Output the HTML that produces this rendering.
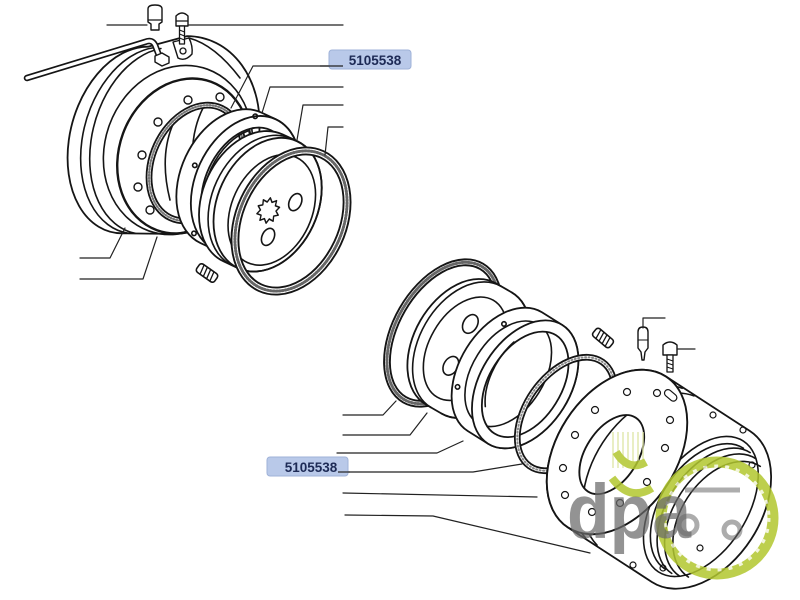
<!DOCTYPE html>
<html><head><meta charset="utf-8"><style>
html,body{margin:0;padding:0;background:#fff;}
svg{display:block;}
</style></head><body>
<svg width="800" height="600" viewBox="0 0 800 600" xmlns="http://www.w3.org/2000/svg">
<rect width="800" height="600" fill="#fff"/>
<g fill="none" stroke="#151515" stroke-width="1.6" stroke-linejoin="round" stroke-linecap="round">

<!-- ===== TOP ASSEMBLY ===== -->
<path fill="#fff" stroke-width="1.8" d="M147.9,46.7 L187.1,36.1 A80,100 15 0 1 168.9,233.9 L122.1,233.3 A65,95 15 0 1 147.9,46.7 Z"/>
<path d="M154.9,47.5 A65,95 15 0 0 129.1,233.3"/>
<path d="M160.9,48.5 A65,95 15 0 0 135.1,233.3"/>
<ellipse cx="178" cy="150" rx="73" ry="86" transform="rotate(20 178 150)"/>
<ellipse cx="184" cy="156" rx="65" ry="79" transform="rotate(20 184 156)" stroke-width="2.4"/>
<g stroke-width="1.4">
<circle cx="188" cy="100" r="4"/><circle cx="158" cy="122" r="4"/><circle cx="142" cy="155" r="4"/>
<circle cx="138" cy="187" r="4"/><circle cx="150" cy="210" r="4"/><circle cx="220" cy="97" r="4"/>
</g>
<path d="M176,118 Q158,152 170,200"/>
<path d="M203,108 Q186,142 196,190"/>
<g transform="translate(196,163) rotate(25)">
<path fill="#fff" fill-rule="evenodd" stroke-width="1.8" d="M-46,0 A46,63 0 1 0 46,0 A46,63 0 1 0 -46,0 Z M-41,0 A41,58 0 1 0 41,0 A41,58 0 1 0 -41,0 Z"/>
<ellipse rx="43.5" ry="60.5" stroke="#777" stroke-width="2.2" stroke-dasharray="1 2"/>
</g>
<g transform="translate(240,182) rotate(25)">
<path fill="#fff" fill-rule="evenodd" stroke-width="1.8" d="M-10,-72 L6,-72 A50,72 0 0 1 6,72 L-10,72 A50,72 0 0 1 -10,-72 Z M-34,0 A40,60 0 1 0 46,0 A40,60 0 1 0 -34,0 Z"/>
<ellipse cx="6" rx="50" ry="72" stroke-width="1.8"/>
<path d="M-14,-50 A40,60 0 0 0 -14,50"/>
<circle cx="-48" cy="4" r="2.2"/><circle cx="-20" cy="66" r="2.2"/><circle cx="-14" cy="-66" r="2.2"/>
</g>
<g transform="translate(264,203) rotate(25)">
<path fill="#fff" stroke-width="1.8" d="M-12,-70 L4,-70 A50,70 0 0 1 4,70 L-12,70 A50,70 0 0 1 -12,-70 Z"/>
<ellipse cx="4" rx="50" ry="70" stroke-width="1.8"/>
<path d="M-2,-70 A50,70 0 0 0 -2,70"/>
<ellipse cx="10" cy="3" rx="40" ry="58"/>
<g transform="translate(7,5) scale(0.85,1)">
<polygon fill="#fff" stroke-width="1.6" points="13,0 8.56,2.78 10.52,7.64 5.29,7.28 4.02,12.36 0,9 -4.02,12.36 -5.29,7.28 -10.52,7.64 -8.56,2.78 -13,0 -8.56,-2.78 -10.52,-7.64 -5.29,-7.28 -4.02,-12.36 0,-9 4.02,-12.36 5.29,-7.28 10.52,-7.64 8.56,-2.78"/>
</g>
<ellipse cx="28" cy="-14" rx="6" ry="9"/>
<ellipse cx="18" cy="29" rx="6" ry="9"/>
</g>
<g transform="translate(291,221) rotate(25)">
<path fill="#fff" fill-rule="evenodd" stroke-width="1.9" d="M-55,0 A55,77 0 1 0 55,0 A55,77 0 1 0 -55,0 Z M-48,0 A48,70 0 1 0 48,0 A48,70 0 1 0 -48,0 Z"/>
<ellipse rx="51.5" ry="73.5" stroke="#666" stroke-width="3" stroke-dasharray="1.2 1.8"/>
</g>
<g transform="translate(207,273) rotate(35)">
<rect x="-11" y="-5" width="22" height="10" rx="3" fill="#fff"/>
<path d="M-7,-5 L-5,5 M-3,-5 L-1,5 M1,-5 L3,5 M5,-5 L7,5" stroke-width="1.3"/>
</g>
<path d="M27,78 L145,42 Q152,39 155,45 L160,58" stroke-width="6.5"/>
<path d="M27,78 L145,42 Q152,39 155,45 L160,58" stroke="#fff" stroke-width="3.2"/>
<path d="M155,56 L162,53 L169,57 L169,63 L162,66 L155,62 Z" fill="#fff" stroke-width="1.4"/>
<path d="M173,42 L189,38 Q193,46 192,54 Q185,62 178,58 Z" fill="#fff" stroke-width="1.4"/>
<circle cx="183" cy="51" r="3" stroke-width="1.3"/>
<path d="M189,38 Q215,45 240,78"/>
<path d="M148,9 Q148,5 155,5 Q162,5 162,9 L162,22 L159,24 L159,30 L151,30 L151,24 L148,22 Z" fill="#fff" stroke-width="1.4"/>
<path d="M148,20 L162,20" stroke-width="1.2"/>
<path d="M176,16 Q182,10 188,16 L188,26 L176,26 Z" fill="#fff" stroke-width="1.4"/>
<path d="M176,21 L188,21" stroke-width="1.2"/>
<rect x="179.5" y="26" width="5" height="18" fill="#fff" stroke-width="1.3"/>
<path d="M179.5,30 L184.5,32 M179.5,34 L184.5,36 M179.5,38 L184.5,40" stroke-width="1"/>

<g stroke-width="1.2" stroke="#222">
<path d="M107,25 L147,25 M189,25 L343,25"/>
<path d="M343,66 L253,66 L231,108"/>
<path d="M343,87 L270,87 L262,113"/>
<path d="M343,105 L303,105 L297,140"/>
<path d="M343,127 L328,127 L325,155"/>
<path d="M80,258 L110,258 L125,228"/>
<path d="M80,279 L143,279 L157,237"/>
</g>

<!-- ===== BOTTOM ASSEMBLY ===== -->
<g transform="translate(443,333) rotate(30)">
<path fill="#fff" fill-rule="evenodd" stroke-width="1.9" d="M-50,0 A50,80 0 1 0 50,0 A50,80 0 1 0 -50,0 Z M-44,0 A44,74 0 1 0 44,0 A44,74 0 1 0 -44,0 Z"/>
<ellipse rx="47" ry="77" stroke="#666" stroke-width="3" stroke-dasharray="1.2 1.8"/>
</g>
<g transform="translate(468,348) rotate(30)">
<path fill="#fff" stroke-width="1.8" d="M-8,-70 L10,-70 A47,70 0 0 1 10,70 L-8,70 A47,70 0 0 1 -8,-70 Z"/>
<path d="M-2,-70 A47,70 0 0 0 -2,70"/>
<ellipse cx="-2" cy="2" rx="36" ry="56"/>
<ellipse cx="-10" cy="-22" rx="7" ry="10"/>
<ellipse cx="-6" cy="24" rx="7" ry="10"/>
<g transform="translate(10,2) scale(0.8,1)">
<polygon fill="#fff" stroke-width="1.5" points="13,0 8.56,2.78 10.52,7.64 5.29,7.28 4.02,12.36 0,9 -4.02,12.36 -5.29,7.28 -10.52,7.64 -8.56,2.78 -13,0 -8.56,-2.78 -10.52,-7.64 -5.29,-7.28 -4.02,-12.36 0,-9 4.02,-12.36 5.29,-7.28 10.52,-7.64 8.56,-2.78"/>
</g>
<path d="M10,-70 A47,70 0 0 1 10,70" stroke-width="1.8"/>
</g>
<g transform="translate(515,378) rotate(32)">
<path fill="#fff" stroke-width="1.8" d="M-12,-70 L12,-70 A45,70 0 0 1 12,70 L-12,70 A45,70 0 0 1 -12,-70 Z"/>
<ellipse cx="-8" rx="36" ry="58"/>
<path fill="#fff" fill-rule="evenodd" stroke-width="1.8" d="M-33,0 A45,70 0 1 0 57,0 A45,70 0 1 0 -33,0 Z M-24,0 A36,58 0 1 0 48,0 A36,58 0 1 0 -24,0 Z"/>
<path d="M-20,-30 A36,58 0 0 0 -10,40"/>
<circle cx="-38" cy="-40" r="2.2"/><circle cx="-44" cy="38" r="2.2"/>
</g>
<g transform="translate(566,414) rotate(35)">
<path fill="#fff" fill-rule="evenodd" stroke-width="1.8" d="M-42,0 A42,66 0 1 0 42,0 A42,66 0 1 0 -42,0 Z M-37,0 A37,61 0 1 0 37,0 A37,61 0 1 0 -37,0 Z"/>
<ellipse rx="39.5" ry="63.5" stroke="#888" stroke-width="2" stroke-dasharray="1 2.5"/>
</g>
<!-- housing H2 -->
<g transform="translate(617,452) rotate(33)">
<path fill="#fff" stroke-width="1.8" d="M0,-90 L100,-90 A60,90 0 0 1 100,90 L0,90 A60,90 0 0 1 0,-90 Z"/>
<ellipse cx="100" rx="46" ry="78"/>
<path d="M104,-72 A44,72 0 0 0 104,72"/>
<path d="M112,-72 A44,72 0 0 0 112,72"/>
<path d="M120,-70 A44,70 0 0 0 120,70"/>
<path d="M128,-66 A44,66 0 0 0 128,66"/>
<path d="M20,-89 A60,90 0 0 0 20,89"/>
<path d="M34,-89 A60,90 0 0 0 34,89"/>
<path fill="#fff" fill-rule="evenodd" stroke-width="1.9" d="M-60,0 A60,90 0 1 0 60,0 A60,90 0 1 0 -60,0 Z M-29,5 A26,44 0 1 0 23,5 A26,44 0 1 0 -29,5 Z"/>
</g>
<g stroke-width="1.2">
<circle cx="627" cy="392" r="3.5"/><circle cx="657" cy="393" r="3.5"/><circle cx="595" cy="410" r="3.5"/>
<circle cx="575" cy="435" r="3.5"/><circle cx="563" cy="468" r="3.5"/><circle cx="565" cy="495" r="3.5"/>
<circle cx="592" cy="512" r="3.5"/><circle cx="620" cy="503" r="3.5"/><circle cx="647" cy="482" r="3.5"/>
<circle cx="665" cy="448" r="3.5"/><circle cx="670" cy="420" r="3.5"/>
<rect x="664" y="392" width="14" height="7" rx="3.5" transform="rotate(40 671 395)"/>
<circle cx="743" cy="430" r="3"/><circle cx="752" cy="465" r="3"/><circle cx="713" cy="415" r="3"/>
<circle cx="633" cy="565" r="3"/><circle cx="663" cy="568" r="3"/><circle cx="700" cy="548" r="3"/>
</g>
<g transform="translate(603,338) rotate(40)">
<rect x="-11" y="-5" width="22" height="10" rx="3" fill="#fff"/>
<path d="M-7,-5 L-5,5 M-3,-5 L-1,5 M1,-5 L3,5 M5,-5 L7,5" stroke-width="1.3"/>
</g>
<path d="M638,332 Q638,327 643,327 Q648,327 648,332 L648,348 L645,352 L644,360 L642,360 L641,352 L638,348 Z" fill="#fff" stroke-width="1.4"/>
<path d="M638,340 L648,340" stroke-width="1.1"/>
<path d="M663,345 Q670,339 677,345 L677,355 L663,355 Z" fill="#fff" stroke-width="1.4"/>
<rect x="667" y="355" width="6" height="17" fill="#fff" stroke-width="1.3"/>
<path d="M667,359 L673,361 M667,363 L673,365 M667,367 L673,369" stroke-width="1"/>

<g stroke-width="1.2" stroke="#222">
<path d="M643,328 L643,318 L665,318"/>
<path d="M677,349 L695,349"/>
<path d="M343,415 L383,415 L396,401"/>
<path d="M343,435 L410,435 L427,413"/>
<path d="M337,453 L437,453 L463,441"/>
<path d="M338,472 L473,472 L522,464"/>
<path d="M343,493 L537,497"/>
<path d="M345,515 L433,516 L590,553"/>
</g>
</g>

<!-- labels -->
<rect x="329" y="50" width="82" height="19" rx="3" fill="#b9c9e9" stroke="#9fb2d8" stroke-width="1"/>
<path d="M320,66 L343,66" stroke="#222" stroke-width="1.2"/>
<text x="375" y="65" text-anchor="middle" font-family="Liberation Sans, sans-serif" font-weight="bold" font-size="13.5" fill="#1d2a55">5105538</text>
<rect x="267" y="457" width="81" height="19" rx="3" fill="#b9c9e9" stroke="#9fb2d8" stroke-width="1"/>
<path d="M338,472 L350,472" stroke="#222" stroke-width="1.2"/>
<text x="311" y="472" text-anchor="middle" font-family="Liberation Sans, sans-serif" font-weight="bold" font-size="13.5" fill="#1d2a55">5105538</text>

<!-- watermark -->
<g opacity="0.85">
<g stroke="#dfe6a8" stroke-width="1.6">
<path d="M613,432 L613,468 M618,432 L618,468 M623,432 L623,468 M628,432 L628,468 M633,432 L633,468 M638,432 L638,468 M643,432 L643,468"/>
</g>
<circle cx="717" cy="518" r="56" fill="none" stroke="#b2c72f" stroke-width="11"/>
<circle cx="717" cy="518" r="52" fill="none" stroke="#fff" stroke-width="3" stroke-dasharray="4 7" opacity="0.8"/>
<path d="M616,452 Q628,472 646,462" fill="none" stroke="#b2c72f" stroke-width="8"/>
<path d="M612,478 Q630,502 652,488" fill="none" stroke="#b2c72f" stroke-width="8"/>
</g>
<g opacity="0.72" fill="#6a6a6a">
<text x="567" y="538" font-family="Liberation Sans, sans-serif" font-weight="bold" font-size="77" textLength="124" lengthAdjust="spacingAndGlyphs">dpa</text>
</g>
<g opacity="0.55" fill="none" stroke="#6a6a6a" stroke-width="5">
<path d="M685,490 L740,490"/>
<circle cx="688" cy="525" r="9"/>
<circle cx="732" cy="530" r="8"/>
</g>
</svg>
</body></html>
